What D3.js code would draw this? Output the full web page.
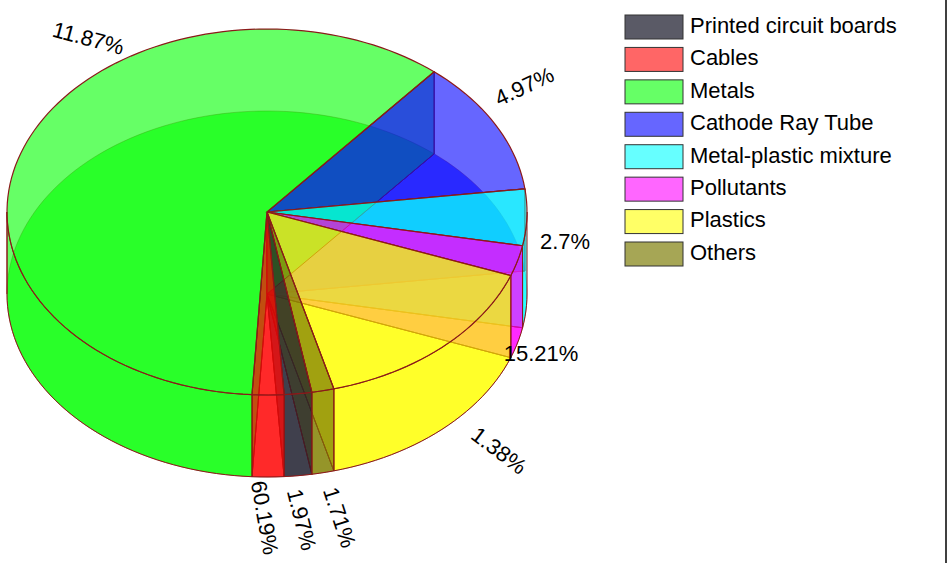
<!DOCTYPE html>
<html><head><meta charset="utf-8">
<script src="https://cdn.jsdelivr.net/npm/d3@7"></script>
<style>body{margin:0;background:#fff}svg{display:block}</style>
</head><body>
<svg id="chart" width="950" height="563"></svg>
<script>
// data (clockwise order from the blue slice at top-right)
const categories = ['Cathode Ray Tube', 'Metal-plastic mixture', 'Pollutants', 'Plastics', 'Others', 'Printed circuit boards', 'Cables', 'Metals'];
const values = [11.87, 4.97, 2.7, 15.21, 1.38, 1.71, 1.97, 60.19];
const legendOrder = ['Printed circuit boards', 'Cables', 'Metals', 'Cathode Ray Tube', 'Metal-plastic mixture', 'Pollutants', 'Plastics', 'Others'];
const labels = ['11.87%', '4.97%', '2.7%', '15.21%', '1.38%', '1.71%', '1.97%', '60.19%'];

const fills = {
  'Printed circuit boards': '#1c1c2c', 'Cables': '#ff0000', 'Metals': '#00ff00',
  'Cathode Ray Tube': '#0000ff', 'Metal-plastic mixture': '#00ffff', 'Pollutants': '#ff00ff',
  'Plastics': '#ffff00', 'Others': '#808000'
};
const legendFills = {
  'Printed circuit boards': '#5a5a66', 'Cables': '#ff6666', 'Metals': '#66ff66',
  'Cathode Ray Tube': '#6666ff', 'Metal-plastic mixture': '#66ffff', 'Pollutants': '#ff66ff',
  'Plastics': '#ffff66', 'Others': '#a6a655'
};

const svg = d3.select('#chart');
const cx = 267, cy = 212, rx = 260, ry = 183, depth = 82;
const edge = '#8b1a1a', alpha = 0.6;
const rad = d => d * Math.PI / 180;

// angle scale: cumulative percent -> screen degrees (clockwise from +x)
const ang = d3.scaleLinear().domain([0, 100]).range([-50, 310]);
const cum = d3.cumsum(values);
const slices = values.map((v, i) => ({ name: categories[i], a0: ang(cum[i] - v), a1: ang(cum[i]), label: labels[i] }));

const pt = (a, dy = 0) => [cx + rx * Math.cos(rad(a)), cy + dy + ry * Math.sin(rad(a))];
function arcPts(a0, a1, dy) {
  const n = Math.max(2, Math.ceil(Math.abs(a1 - a0) / 2));
  return d3.range(n + 1).map(k => pt(a0 + (a1 - a0) * k / n, dy));
}
const line = d3.line();
function face(s, dy) { return line([[cx, cy + dy], ...arcPts(s.a0, s.a1, dy)]) + 'Z'; }

const g = svg.append('g');
// bottom faces
slices.forEach(s => g.append('path').attr('d', face(s, depth)).attr('fill', fills[s.name]).attr('fill-opacity', alpha).attr('stroke', edge).attr('stroke-opacity', 0.4));
// radial walls
slices.forEach(s => [s.a0, s.a1].forEach(a => {
  g.append('path').attr('d', line([[cx, cy], pt(a), pt(a, depth), [cx, cy + depth]]) + 'Z')
    .attr('fill', fills[s.name]).attr('fill-opacity', alpha * 0.6).attr('stroke', edge).attr('stroke-width', 1);
}));
// outer walls (front part only)
slices.forEach(s => {
  let lo = Math.max(s.a0, 0), hi = Math.min(s.a1, 180);
  if (hi <= lo) return;
  const top = arcPts(lo, hi, 0), bot = arcPts(hi, lo, depth);
  g.append('path').attr('d', line([...top, ...bot]) + 'Z')
    .attr('fill', fills[s.name]).attr('fill-opacity', alpha).attr('stroke', edge).attr('stroke-width', 1);
});
// left/right cylinder outlines
g.append('path').attr('d', line([pt(180), pt(180, depth)])).attr('stroke', edge);
// top faces
slices.forEach(s => g.append('path').attr('d', face(s, 0)).attr('fill', fills[s.name]).attr('fill-opacity', alpha).attr('stroke', edge).attr('stroke-width', 1.2));

// percentage labels
const lab = [
  { x: 88, y: 40, r: 15 }, { x: 525, y: 88, r: -25 }, { x: 565, y: 243, r: 0 }, { x: 541, y: 355, r: 0 },
  { x: 498, y: 452, r: 37 }, { x: 338, y: 518, r: 72 }, { x: 300, y: 520, r: 76 }, { x: 263, y: 518, r: 80 }
];
slices.forEach((s, i) => {
  const p = lab[i];
  svg.append('text').attr('transform', `translate(${p.x},${p.y}) rotate(${p.r})`)
    .attr('text-anchor', 'middle').attr('dominant-baseline', 'middle')
    .style('font', '22px "Liberation Sans", Arial, sans-serif').text(s.label);
});

// legend
const ly = d3.scalePoint().domain(legendOrder).range([27, 254]);
legendOrder.forEach(n => {
  svg.append('rect').attr('x', 625).attr('y', ly(n) - 12).attr('width', 58).attr('height', 24)
    .attr('fill', legendFills[n]).attr('stroke', '#333').attr('stroke-width', 1);
  svg.append('text').attr('x', 690).attr('y', ly(n)).attr('dominant-baseline', 'middle')
    .style('font', '22px "Liberation Sans", Arial, sans-serif').text(n);
});
svg.append('line').attr('x1', 946).attr('x2', 946).attr('y1', 0).attr('y2', 563).attr('stroke', '#000').attr('stroke-width', 1.5);
</script>
</body></html>
